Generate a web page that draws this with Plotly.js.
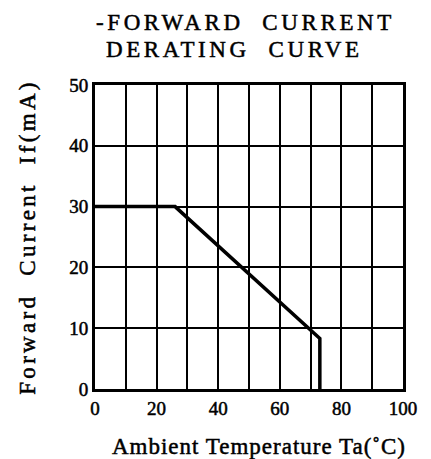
<!DOCTYPE html>
<html>
<head>
<meta charset="utf-8">
<script src="https://cdn.plot.ly/plotly-3.0.1.min.js"></script>
<style>
  html, body { margin: 0; padding: 0; background: #fff; }
  #chart { width: 431px; height: 459px; }
  /* the scan has heavy, spaced-out type */
  #chart text { stroke: #000; stroke-width: 0.5px; }
  .annotation-text { letter-spacing: 3.6px; }
  .ytitle { letter-spacing: 3.3px; }
  .xtitle { letter-spacing: 1px; transform: translate(10px, 0); }
</style>
</head>
<body>
<div id="chart"></div>
<script>
// derating curve
const tempC = [0, 26, 73, 73];
const currentMA = [30, 30, 8.3, 0];

const xTicks = [0, 20, 40, 60, 80, 100];
const yTicks = [0, 10, 20, 30, 40, 50];

const titleLines = ["-FORWARD\u00a0\u00a0CURRENT", "DERATING\u00a0\u00a0CURVE"];

const serif = "Liberation Serif, Times New Roman, serif";

function drawChart() {
  const titleFont = { family: serif, size: 23, color: "#000" };
  const titleLine = (text, x, y) => ({
    text, x, y,
    xref: "paper", yref: "paper",
    xanchor: "left", yanchor: "middle",
    showarrow: false,
    font: titleFont
  });

  Plotly.newPlot(
    "chart",
    [
      {
        type: "scatter",
        mode: "lines",
        x: tempC,
        y: currentMA,
        line: { color: "#000", width: 3.5 },
        hoverinfo: "skip"
      }
    ],
    {
      width: 431,
      height: 459,
      showlegend: false,
      paper_bgcolor: "#fff",
      plot_bgcolor: "#fff",
      margin: { l: 95, r: 28, t: 85, b: 70 },
      font: { family: serif, color: "#000" },
      // title lines as annotations: the scan sets them left-ish, not centred
      annotations: [
        titleLine(titleLines[0], -0.003, 1.207),
        titleLine(titleLines[1], 0.029, 1.118)
      ],
      xaxis: {
        range: [0, 100],
        tickvals: xTicks,
        ticktext: xTicks.map(String),
        tickfont: { family: serif, size: 19, color: "#000" },
        ticks: "",
        showgrid: true,
        gridcolor: "#000",
        gridwidth: 2,
        minor: { dtick: 10, showgrid: true, gridcolor: "#000", gridwidth: 2 },
        showline: true,
        linecolor: "#000",
        linewidth: 3,
        mirror: true,
        zeroline: false,
        fixedrange: true,
        title: {
          text: "Ambient Temperature Ta(\u02daC)",
          font: { family: serif, size: 23, color: "#000" },
          standoff: 22
        }
      },
      yaxis: {
        range: [0, 50],
        tickvals: yTicks,
        ticktext: yTicks.map(String),
        tickfont: { family: serif, size: 19, color: "#000" },
        ticks: "",
        showgrid: true,
        gridcolor: "#000",
        gridwidth: 2,
        showline: true,
        linecolor: "#000",
        linewidth: 3,
        mirror: true,
        zeroline: false,
        fixedrange: true,
        title: {
          text: "Forward\u00a0\u00a0Current\u00a0\u00a0If(mA)",
          font: { family: serif, size: 23, color: "#000" },
          standoff: 28
        }
      }
    },
    { displayModeBar: false, staticPlot: true }
  );
}

document.addEventListener("DOMContentLoaded", drawChart);
</script>
</body>
</html>
